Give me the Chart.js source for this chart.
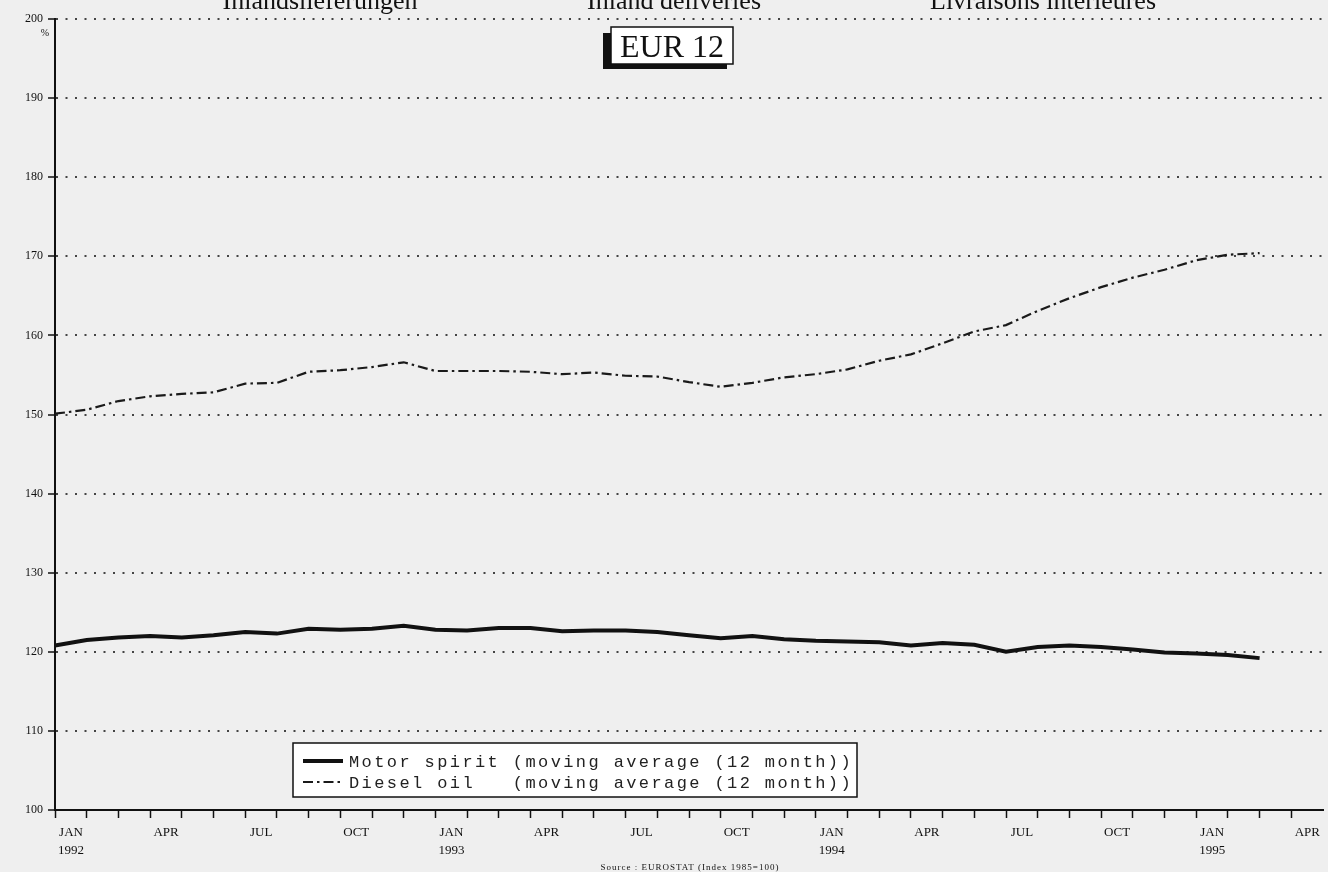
<!DOCTYPE html>
<html>
<head>
<meta charset="utf-8">
<script src="https://cdn.jsdelivr.net/npm/chart.js@4/dist/chart.umd.min.js"></script>
<style>
  html, body { margin: 0; padding: 0; background: #efefef; }
  #wrap { width: 1328px; height: 872px; }
  canvas { display: block; }
</style>
</head>
<body>
<div id="wrap"><canvas id="chart" width="1328" height="872"></canvas></div>
<script>
// ----------------------
// Data (index 1985 = 100)
// ----------------------
const monthNames = ["JAN", "FEB", "MAR", "APR", "MAY", "JUN", "JUL", "AUG", "SEP", "OCT", "NOV", "DEC"];
const years = [1992, 1993, 1994, 1995];

// months Jan 1992 .. May 1995 (axis runs a bit beyond the last tick label)
const categories = [];
years.forEach(y => monthNames.forEach(m => categories.push(m + " " + y)));
categories.length = 41;

const motorSpirit = [
  120.8, 121.5, 121.8, 122.0, 121.8, 122.1, 122.5, 122.3, 122.9, 122.8, 122.9, 123.3,
  122.8, 122.7, 123.0, 123.0, 122.6, 122.7, 122.7, 122.5, 122.1, 121.7, 122.0, 121.6,
  121.4, 121.3, 121.2, 120.8, 121.1, 120.9, 120.0, 120.6, 120.8, 120.6, 120.3, 119.9,
  119.8, 119.6, 119.2
];
const dieselOil = [
  150.1, 150.6, 151.7, 152.3, 152.6, 152.8, 153.9, 154.0, 155.4, 155.6, 156.0, 156.6,
  155.5, 155.5, 155.5, 155.4, 155.1, 155.3, 154.9, 154.8, 154.1, 153.5, 154.0, 154.7,
  155.1, 155.7, 156.8, 157.6, 159.0, 160.5, 161.3, 163.1, 164.7, 166.1, 167.3, 168.3,
  169.5, 170.2, 170.4
];

const seriesLabels = [
  "Motor spirit (moving average (12 month))",
  "Diesel oil   (moving average (12 month))"
];
const headerTitles = ["Inlandslieferungen", "Inland deliveries", "Livraisons intérieures"];
const boxTitle = "EUR 12";
const unitLabel = "%";
const sourceText = "Source : EUROSTAT (Index 1985=100)";

const DASH_DIESEL = [10, 4, 2.5, 4];

// ----------------------
// Decorations: background, titles, box, legend
// ----------------------
const decor = {
  id: "decor",
  beforeDraw(chart) {
    const c = chart.ctx;
    c.save();
    c.fillStyle = "#efefef";
    c.fillRect(0, 0, chart.width, chart.height);
    c.restore();
  },
  afterDraw(chart) {
    const c = chart.ctx;
    c.save();
    c.fillStyle = "#111";
    c.textAlign = "center";
    c.textBaseline = "alphabetic";

    // top titles, cut off by the page edge
    c.font = "26px 'Liberation Serif'";
    const centers = [320, 674, 1043];
    headerTitles.forEach((t, i) => c.fillText(t, centers[i], 9));

    // EUR 12 box with shadow
    c.fillStyle = "#111";
    c.fillRect(603, 33, 124, 36);
    c.fillStyle = "#fff";
    c.fillRect(611, 27, 122, 37);
    c.strokeStyle = "#111";
    c.lineWidth = 1.5;
    c.strokeRect(611, 27, 122, 37);
    c.fillStyle = "#111";
    c.font = "32px 'Liberation Serif'";
    c.fillText(boxTitle, 672, 57);

    // unit
    c.font = "10px 'Liberation Serif'";
    c.fillText(unitLabel, 45, 36);

    // source
    c.font = "9px 'Liberation Serif'";
    if ("letterSpacing" in c) c.letterSpacing = "1px";
    c.fillText(sourceText, 690, 870);
    if ("letterSpacing" in c) c.letterSpacing = "0px";

    // legend
    const lx = 293, ly = 743, lw = 564, lh = 54;
    c.fillStyle = "#fff";
    c.fillRect(lx, ly, lw, lh);
    c.strokeStyle = "#111";
    c.lineWidth = 1.5;
    c.strokeRect(lx, ly, lw, lh);
    c.textAlign = "left";
    c.font = "17px 'Liberation Mono'";
    if ("letterSpacing" in c) c.letterSpacing = "2.4px";
    chart.data.datasets.forEach((ds, i) => {
      const yy = ly + 18 + i * 21;
      c.beginPath();
      c.strokeStyle = ds.borderColor;
      c.lineWidth = ds.borderWidth;
      c.setLineDash(ds.borderDash || []);
      c.moveTo(lx + 10, yy);
      c.lineTo(lx + 50, yy);
      c.stroke();
      c.setLineDash([]);
      c.fillStyle = "#222";
      c.fillText(ds.label, lx + 56, yy + 6);
    });
    c.restore();
  }
};

// ----------------------
// Chart
// ----------------------
const ctx = document.getElementById("chart").getContext("2d");
new Chart(ctx, {
  type: "line",
  data: {
    labels: categories,
    datasets: [
      {
        label: seriesLabels[0],
        data: motorSpirit,
        borderColor: "#111",
        borderWidth: 4,
        pointRadius: 0,
        tension: 0
      },
      {
        label: seriesLabels[1],
        data: dieselOil,
        borderColor: "#1a1a1a",
        borderWidth: 2.2,
        borderDash: DASH_DIESEL,
        pointRadius: 0,
        tension: 0
      }
    ]
  },
  options: {
    responsive: false,
    devicePixelRatio: 1,
    animation: false,
    layout: { padding: { top: 19, right: 3, left: 0, bottom: 0 } },
    plugins: {
      legend: { display: false },
      tooltip: { enabled: false }
    },
    scales: {
      x: {
        type: "category",
        offset: false,
        grid: {
          drawOnChartArea: false,
          drawTicks: true,
          tickLength: 8,
          tickWidth: 1.5,
          tickColor: c => (c.index === categories.length - 1 ? "rgba(0,0,0,0)" : "#111")
        },
        border: { display: true, color: "#111", width: 2 },
        ticks: {
          autoSkip: false,
          maxRotation: 0,
          minRotation: 0,
          labelOffset: 16,
          padding: 5,
          color: "#111",
          font: { family: "'Liberation Serif'", size: 13, lineHeight: 1.4 },
          callback: (v, i) => {
            if (i % 3 !== 0 || i >= categories.length - 1) return "";
            const [m, y] = categories[i].split(" ");
            return m === "JAN" && i < 39 ? [m, y] : m;
          }
        },
        afterFit: s => { s.height = 62; }
      },
      y: {
        min: 100,
        max: 200,
        grid: {
          color: "#444",
          lineWidth: 2,
          tickLength: 7,
          tickColor: "#111",
          tickWidth: 1.5
        },
        border: { display: true, color: "#111", width: 2, dash: [2, 7.5] },
        ticks: {
          stepSize: 10,
          padding: 5,
          color: "#111",
          font: { family: "'Liberation Serif'", size: 12 }
        },
        afterFit: s => { s.width = 55; }
      }
    }
  },
  plugins: [decor]
});
</script>
</body>
</html>
